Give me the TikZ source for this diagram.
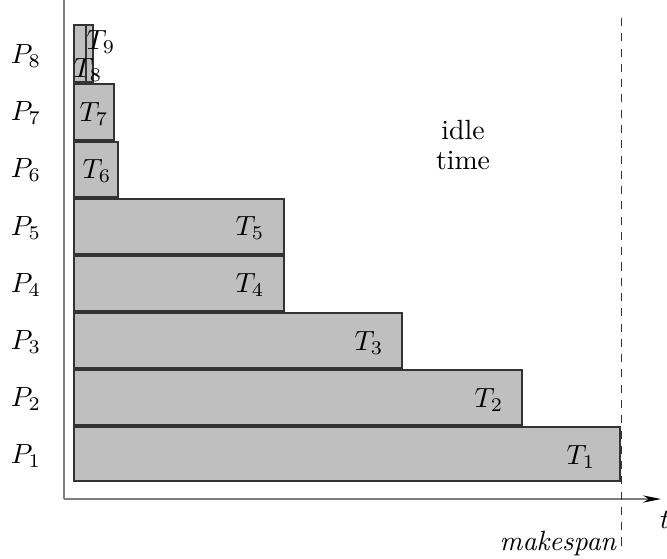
\documentclass[tikz,border=0pt]{standalone}
\usetikzlibrary{arrows.meta}
\begin{document}
\begin{tikzpicture}[x=0.36pt,y=-0.36pt,
  bar/.style={draw=black!80, fill=black!25, line width=0.4pt},
  axis/.style={draw=black!50, line width=0.4pt},
  lab/.style={inner sep=0pt}]
\useasboundingbox (0,0) rectangle (667,558);
% axes
\coordinate (ytop) at (64,0);
\coordinate (orig) at (64,499);
\coordinate (xend) at (661,499);
\draw[axis] (ytop) -- (orig);
\draw[axis, -{Stealth[length=6.5pt,width=2.6pt,black]}] (orig) -- (xend);
% bars
\draw[bar] (74,427) rectangle (620,481);
\draw[bar] (74,370) rectangle (522,425);
\draw[bar] (74,313) rectangle (402,368);
\draw[bar] (74,256) rectangle (284,311);
\draw[bar] (74,199) rectangle (284,254);
\draw[bar] (74,142) rectangle (118,197);
\draw[bar] (74,84) rectangle (114,140);
\draw[bar] (74,25) rectangle (86,82);
\draw[bar] (86,25) rectangle (93,82);
% makespan line
\coordinate (mtop) at (621,18);
\coordinate (mbot) at (621,546);
\draw[black!80, line width=0.36pt, dash pattern=on 2.9pt off 2.6pt] (mtop) -- (mbot);
% processor labels
\node[lab] (p1) at (26,456) {$P_1$};
\node[lab] (p2) at (26,399) {$P_2$};
\node[lab] (p3) at (26,342) {$P_3$};
\node[lab] (p4) at (26,285) {$P_4$};
\node[lab] (p5) at (26,228) {$P_5$};
\node[lab] (p6) at (26,170) {$P_6$};
\node[lab] (p7) at (26,113) {$P_7$};
\node[lab] (p8) at (26,56) {$P_8$};
% task labels
\node[lab] (t1) at (581,457) {$T_1$};
\node[lab] (t2) at (489,400) {$T_2$};
\node[lab] (t3) at (369,343) {$T_3$};
\node[lab] (t4) at (250,285) {$T_4$};
\node[lab] (t5) at (250,228) {$T_5$};
\node[lab] (t6) at (97,171) {$T_6$};
\node[lab] (t7) at (94,114) {$T_7$};
\node[lab] (t8) at (88,70) {$T_8$};
\node[lab] (t9) at (101,42) {$T_9$};
% other labels
\node[lab] (idle) at (463,130) {idle};
\node[lab] (time) at (463,161) {time};
\node[lab] (t) at (665,520) {$t$};
\node[lab] (mk) at (559,544) {$\mathit{makespan}$};
\end{tikzpicture}
\end{document}
